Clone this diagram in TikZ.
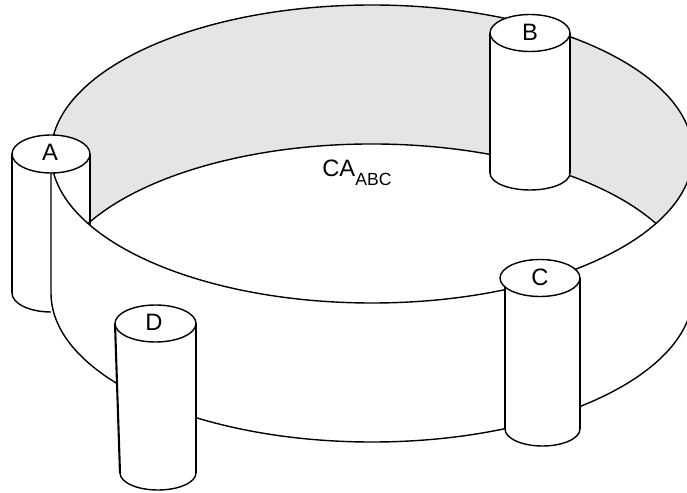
\documentclass[tikz,border=0pt]{standalone}
\usepackage{fontspec}
\setmainfont{Liberation Sans}
\begin{document}
\begin{tikzpicture}[
  ringline/.style={line width=0.8pt},
  cylside/.style={line width=1.2pt},
  cyltop/.style={fill=white,draw=black,line width=0.8pt},
  tag/.style={font=\fontsize{13.5}{15}\selectfont,inner sep=0pt,anchor=center}]
\useasboundingbox (0,0) rectangle (13.74,9.84);
\clip (0,0) rectangle (13.74,9.84);
% inside of the ring
\fill[gray!20] (7.44,6.76) ellipse [x radius=6.42, y radius=2.98];
\fill[white] (7.44,3.98) ellipse [x radius=6.42, y radius=2.98];

% post A
\fill[white] (0.24,6.76) -- (0.24,3.98) arc[start angle=180,end angle=360,x radius=0.78,y radius=0.38] -- (1.80,6.76) -- cycle;
\draw[cylside] (0.24,6.76) -- (0.24,3.98);
\draw[cylside] (1.80,6.76) -- (1.80,3.98);
\draw[ringline] (0.24,3.98) arc[start angle=180,end angle=270,x radius=0.78,y radius=0.38];

% front wall
\fill[white] (1.02,6.76) arc[start angle=180,end angle=360,x radius=6.42,y radius=2.98] -- (13.86,3.98) arc[start angle=0,end angle=-180,x radius=6.42,y radius=2.98] -- cycle;
\draw[ringline] (7.44,6.76) ellipse [x radius=6.42, y radius=2.98];
\draw[ringline] (1.02,6.76) -- (1.02,3.98) arc[start angle=180,end angle=360,x radius=6.42,y radius=2.98] -- (13.86,6.76);
\draw[ringline] (7.44,3.98) ++(27.8:6.42 and 2.98) arc[start angle=27.8,end angle=152.2,x radius=6.42,y radius=2.98];

\draw[cyltop] (1.02,6.76) ellipse [x radius=0.78,y radius=0.38];
\node[tag] (A) at (1.00,6.80) {A};

% post B
\fill[white] (9.80,9.18) -- (9.80,6.38) arc[start angle=180,end angle=360,x radius=0.80,y radius=0.34] -- (11.40,9.18) -- cycle;
\draw[cylside] (9.80,9.18) -- (9.80,6.38);
\draw[cylside] (11.40,9.18) -- (11.40,6.38);
\draw[ringline] (9.80,6.38) arc[start angle=180,end angle=360,x radius=0.80,y radius=0.34];
\draw[cyltop] (10.60,9.18) ellipse [x radius=0.80,y radius=0.37];
\node[tag] (B) at (10.60,9.20) {B};

% post C
\fill[white] (10.10,4.28) -- (10.10,1.26) arc[start angle=180,end angle=360,x radius=0.75,y radius=0.34] -- (11.60,4.28) -- cycle;
\draw[cylside] (10.10,4.28) -- (10.10,1.26);
\draw[cylside] (11.60,4.28) -- (11.60,1.26);
\draw[ringline] (10.10,1.26) arc[start angle=180,end angle=360,x radius=0.75,y radius=0.34];
\draw[cyltop] (10.80,4.28) ellipse [x radius=0.80,y radius=0.37];
\node[tag] (C) at (10.80,4.30) {C};

% post D
\fill[white] (2.30,3.37) -- (2.40,0.38) arc[start angle=180,end angle=360,x radius=0.76,y radius=0.34] -- (3.92,3.37) -- cycle;
\draw[cylside] (2.30,3.37) -- (2.40,0.38);
\draw[cylside] (3.92,3.37) -- (3.92,0.38);
\draw[ringline] (2.40,0.38) arc[start angle=180,end angle=360,x radius=0.76,y radius=0.34];
\draw[cyltop] (3.11,3.37) ellipse [x radius=0.81,y radius=0.37];
\node[tag] (D) at (3.08,3.40) {D};

\node[inner sep=0pt,anchor=base west] (CA) at (6.44,6.30) {\fontsize{13.5}{15}\selectfont CA\raisebox{-5pt}{\fontsize{10}{12}\selectfont ABC}};
\end{tikzpicture}
\end{document}
